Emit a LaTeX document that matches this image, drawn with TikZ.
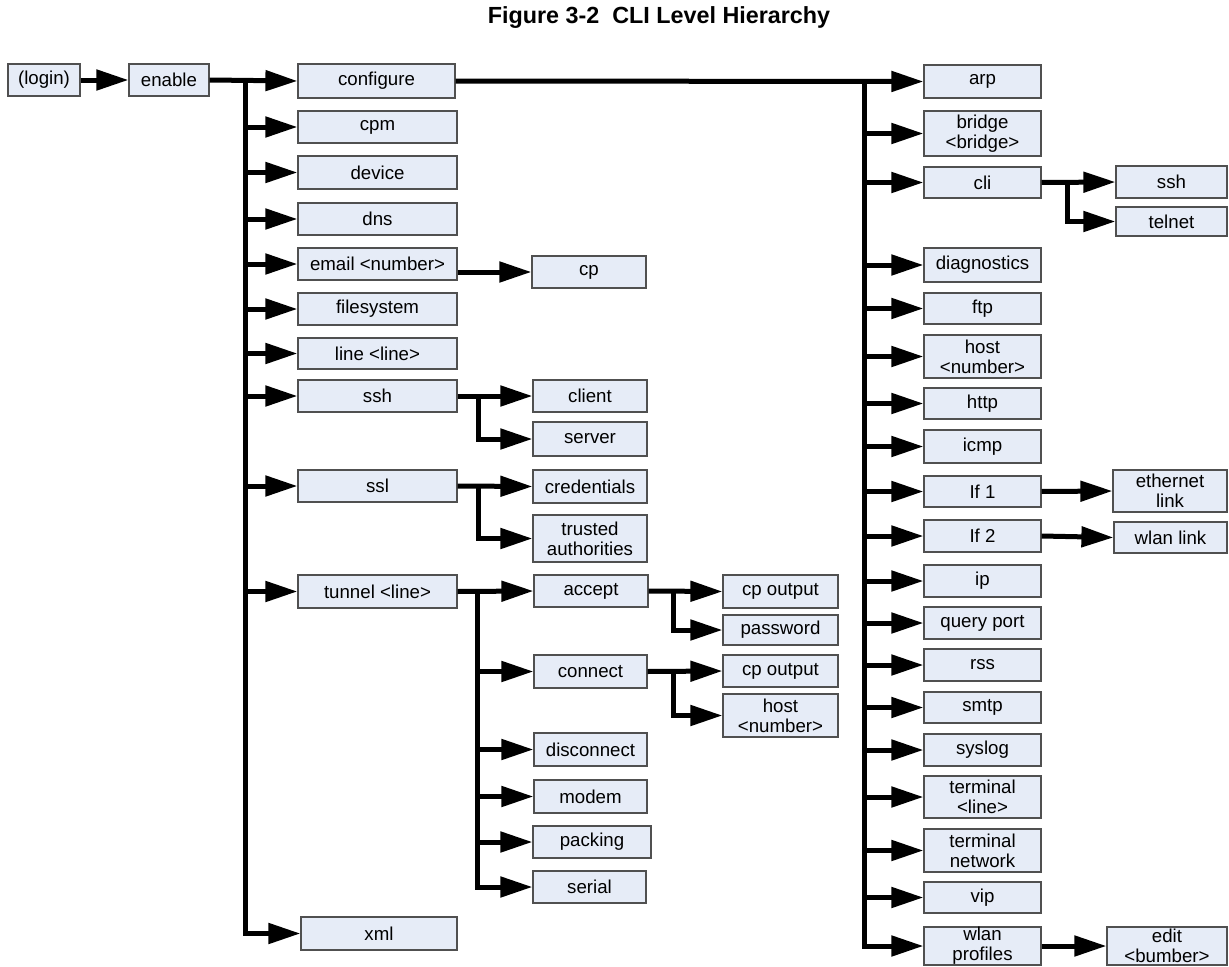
\documentclass[tikz,border=0pt]{standalone}
\usepackage{fontspec}
\setmainfont{Liberation Sans}
\usetikzlibrary{arrows.meta}
\definecolor{boxfill}{HTML}{E6ECF7}
\definecolor{boxline}{HTML}{505050}
\tikzset{
  box/.style={draw=boxline, line width=0.9pt, fill=boxfill, rectangle, inner sep=0pt,
    align=center, font=\fontsize{14}{15}\selectfont},
  conn/.style={line width=3.75pt, line join=miter},
  arr/.style={-{Triangle[length=24pt,width=15pt]}},
}
\newcommand{\bx}[6]{\node[box, minimum width={(#4-#2)*0.75pt}, minimum height={(#5-#3)*0.75pt}] (#1) at ({(#2+#4)/2},{(#3+#5)/2}) {#6};}
\begin{document}
\begin{tikzpicture}[x=0.75pt,y=-0.75pt]
\useasboundingbox (0,0) rectangle (1229,967);
\node[font=\bfseries\fontsize{17.5}{19}\selectfont] (title) at (659,18) {Figure 3-2\ \ CLI Level Hierarchy};

% left column
\bx{login}{8}{64}{80}{96}{(login)}
\bx{enable}{129}{64}{209}{96}{enable}
\bx{configure}{298}{64}{455}{98}{configure}
\bx{cpm}{298}{111}{457}{143}{cpm}
\bx{device}{298}{156}{457}{189}{device}
\bx{dns}{298}{203}{457}{235}{dns}
\bx{email}{298}{248}{457}{280}{email <number>}
\bx{filesystem}{298}{293}{457}{325}{filesystem}
\bx{line}{298}{338}{457}{369}{line <line>}
\bx{ssh}{298}{380}{457}{412}{ssh}
\bx{ssl}{298}{470}{457}{502}{ssl}
\bx{tunnel}{298}{575}{457}{608}{tunnel <line>}
\bx{xml}{301}{917}{457}{950}{xml}

% middle column
\bx{cp}{532}{256}{646}{288}{cp}
\bx{client}{533}{380}{647}{412}{client}
\bx{server}{533}{422}{647}{456}{server}
\bx{cred}{533}{470}{647}{503}{credentials}
\bx{trusted}{533}{515}{647}{562}{trusted\\authorities}
\bx{accept}{534}{575}{648}{607}{accept}
\bx{connect}{534}{655}{647}{688}{connect}
\bx{disconnect}{534}{733}{647}{766}{disconnect}
\bx{modem}{534}{780}{647}{813}{modem}
\bx{packing}{533}{826}{651}{858}{packing}
\bx{serial}{533}{871}{646}{903}{serial}

\bx{cpoutA}{723}{575}{838}{608}{cp output}
\bx{password}{723}{615}{838}{645}{password}
\bx{cpoutB}{723}{655}{838}{687}{cp output}
\bx{hostB}{723}{694}{838}{737}{host\\<number>}

% right column
\bx{arp}{924}{65}{1041}{98}{arp}
\bx{bridge}{924}{111}{1041}{156}{bridge\\<bridge>}
\bx{cli}{924}{167}{1041}{198}{cli}
\bx{diag}{924}{248}{1041}{282}{diagnostics}
\bx{ftp}{924}{293}{1041}{324}{ftp}
\bx{host}{924}{335}{1041}{378}{host\\<number>}
\bx{http}{924}{388}{1041}{419}{http}
\bx{icmp}{924}{430}{1041}{463}{icmp}
\bx{ifone}{924}{476}{1041}{507}{If 1}
\bx{iftwo}{924}{520}{1041}{552}{If 2}
\bx{ip}{924}{565}{1041}{597}{ip}
\bx{query}{924}{607}{1041}{639}{query port}
\bx{rss}{924}{649}{1041}{681}{rss}
\bx{smtp}{924}{692}{1041}{723}{smtp}
\bx{syslog}{924}{734}{1041}{766}{syslog}
\bx{termline}{924}{776}{1041}{818}{terminal\\<line>}
\bx{termnet}{924}{829}{1041}{872}{terminal\\network}
\bx{vip}{924}{882}{1041}{913}{vip}
\bx{wlanprof}{924}{927}{1041}{965}{wlan\\profiles}

\bx{sshB}{1116}{166}{1227}{198}{ssh}
\bx{telnet}{1116}{207}{1227}{236}{telnet}
\bx{eth}{1113}{470}{1227}{512}{ethernet\\link}
\bx{wlanlink}{1114}{522}{1227}{553}{wlan link}
\bx{edit}{1107}{927}{1227}{965}{edit\\<bumber>}

% connectors
\draw[conn,arr] (login.east) -- (enable.west);
\coordinate (eb) at (245,81);
\draw[conn,arr] (enable.east) -- (configure.west);
\draw[conn,arr] (eb) |- (xml.west);
\foreach \n in {cpm,device,dns,email,filesystem,line,ssh,ssl,tunnel}
  \draw[conn,arr] (eb |- \n.west) -- (\n.west);

\draw[conn,arr] (email.east |- cp.west) -- (cp.west);

\coordinate (sshb) at (478,396);
\draw[conn,arr] (ssh.east) -- (client.west);
\draw[conn,arr] (sshb) |- (server.west);

\coordinate (sslb) at (478,486);
\draw[conn,arr] (ssl.east) -- (cred.west);
\draw[conn,arr] (sslb) |- (trusted.west);

\coordinate (tb) at (477,591.5);
\draw[conn,arr] (tunnel.east) -- (accept.west);
\draw[conn,arr] (tb) |- (serial.west);
\foreach \n in {connect,disconnect,modem,packing}
  \draw[conn,arr] (tb |- \n.west) -- (\n.west);

\coordinate (ab) at (673,591.5);
\draw[conn,arr] (accept.east) -- (cpoutA.west);
\draw[conn,arr] (ab) |- (password.west);

\coordinate (cnb) at (673,671.5);
\draw[conn,arr] (connect.east) -- (cpoutB.west);
\draw[conn,arr] (cnb) |- (hostB.west);

\coordinate (cb) at (864,81);
\draw[conn,arr] (configure.east) -- (arp.west);
\draw[conn,arr] (cb) |- (wlanprof.west);
\foreach \n in {bridge,cli,diag,ftp,host,http,icmp,ifone,iftwo,ip,query,rss,smtp,syslog,termline,termnet,vip}
  \draw[conn,arr] (cb |- \n.west) -- (\n.west);

\coordinate (clib) at (1067,182.5);
\draw[conn,arr] (cli.east) -- (sshB.west);
\draw[conn,arr] (clib) |- (telnet.west);

\draw[conn,arr] (ifone.east) -- (eth.west);
\draw[conn,arr] (iftwo.east) -- (wlanlink.west);
\draw[conn,arr] (wlanprof.east) -- (edit.west);
\end{tikzpicture}
\end{document}
